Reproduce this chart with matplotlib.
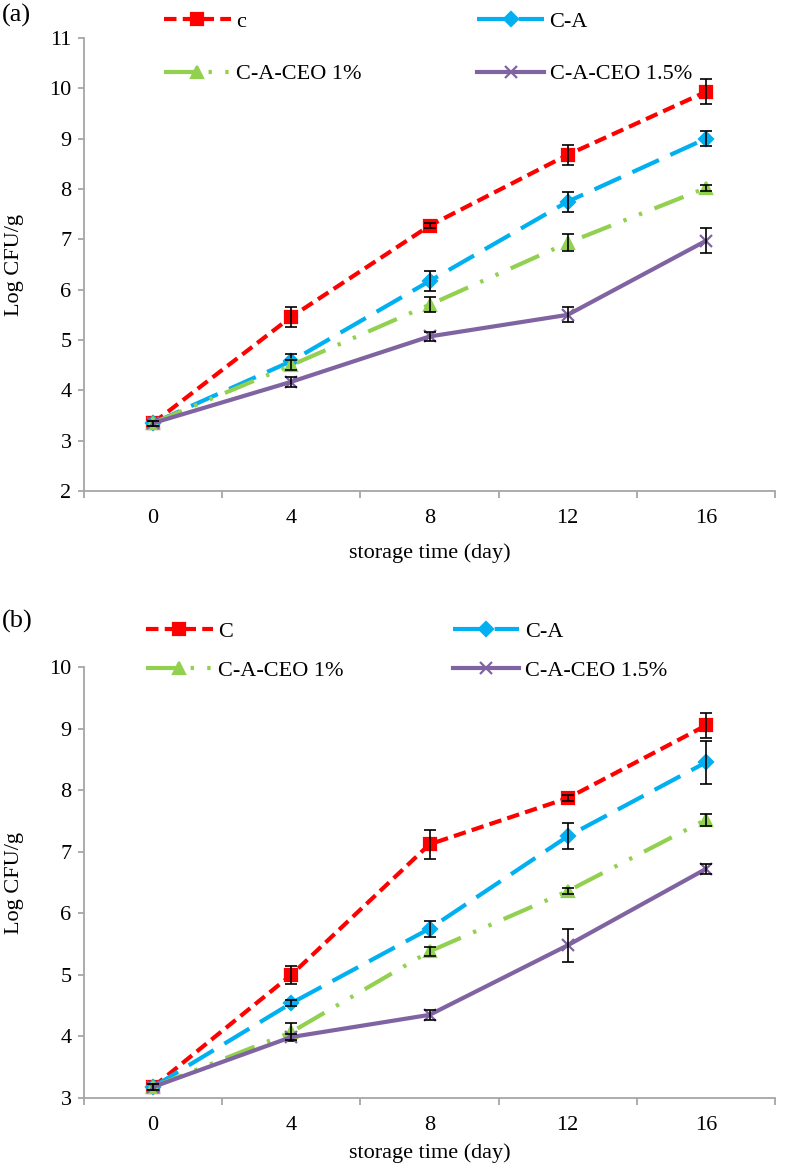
import matplotlib.pyplot as plt
import numpy as np
from matplotlib.lines import Line2D
from matplotlib.ticker import FixedLocator

plt.rcParams['font.family'] = ['Liberation Serif', 'DejaVu Serif']

days = ['0', '4', '8', '12', '16']

# panel (a), Log CFU/g
a_c = [3.35, 5.46, 7.27, 8.68, 9.93]
a_ca = [3.35, 4.58, 6.17, 7.75, 9.00]
a_ceo1 = [3.35, 4.50, 5.70, 6.93, 8.02]
a_ceo15 = [3.35, 4.17, 5.07, 5.50, 6.97]
a_c_err = [0.05, 0.20, 0.05, 0.20, 0.25]
a_ca_err = [0.05, 0.15, 0.20, 0.20, 0.15]
a_ceo1_err = [0.05, 0.10, 0.15, 0.17, 0.05]
a_ceo15_err = [0.05, 0.10, 0.08, 0.15, 0.25]

# panel (b)
b_c = [3.18, 5.00, 7.12, 7.87, 9.05]
b_ca = [3.18, 4.54, 5.75, 7.25, 8.45]
b_ceo1 = [3.18, 4.07, 5.38, 6.36, 7.52]
b_ceo15 = [3.18, 3.99, 4.35, 5.48, 6.72]
b_c_err = [0.05, 0.15, 0.24, 0.05, 0.20]
b_ca_err = [0.05, 0.05, 0.13, 0.21, 0.35]
b_ceo1_err = [0.05, 0.15, 0.07, 0.05, 0.10]
b_ceo15_err = [0.05, 0.05, 0.08, 0.27, 0.08]

# (color, dash pattern, marker, markersize)
styles = [
    ('#FF0000', (3, 1.5), 's', 9),
    ('#00B0F0', (7, 3), 'D', 7.5),
    ('#92D050', (7.5, 3.2, 0.8, 3.2, 0.8, 3.2), '^', 9),
    ('#8064A2', None, 'x', 9),
]

W, H = 788, 1168
fig = plt.figure(figsize=(W / 100, H / 100), dpi=100)
GRAY = '#A6A6A6'
FS = 16


def px(x0, y0, x1, y1):
    # pixel box (top-left origin) -> figure fraction rect
    return [x0 / W, 1 - y1 / H, (x1 - x0) / W, (y1 - y0) / H]


def draw_panel(rect, series, errs, labels, ylim, leg_xy, leg_space, leg_colsp,
               tag, tag_y, xlab_off):
    ax = fig.add_axes(px(*rect))
    x = np.arange(len(days))
    handles = []
    for i, (vals, err, (col, dash, mk, ms)) in enumerate(zip(series, errs, styles)):
        line, = ax.plot(x, vals, color=col, lw=3, marker=mk, ms=ms,
                        mec=col, mfc=col, mew=1.6, zorder=3 + i,
                        dash_capstyle='butt', solid_capstyle='butt')
        if dash is not None:
            line.set_dashes(dash)
        ax.errorbar(x, vals, yerr=err, fmt='none', ecolor='black',
                    elinewidth=1.2, capsize=4.5, capthick=1.2, zorder=3.5 + i)
        h = Line2D([], [], color=col, lw=3, marker=mk, ms=ms, mec=col, mfc=col,
                   mew=1.6, dash_capstyle='butt')
        if dash is not None:
            h.set_dashes(dash)
        handles.append(h)

    ax.set_xlim(-0.5, len(days) - 0.5)
    ax.set_ylim(*ylim)
    ax.set_yticks(np.arange(ylim[0], ylim[1] + 1, 1))
    ax.set_xticks(x)
    ax.set_xticklabels(days)
    ax.xaxis.set_minor_locator(FixedLocator(np.arange(-0.5, len(days), 1)))
    ax.tick_params(axis='x', which='major', length=0, pad=13, labelsize=FS)
    ax.tick_params(axis='x', which='minor', length=5, width=1.3, color=GRAY)
    ax.tick_params(axis='y', length=4, width=1.3, color=GRAY, pad=5, labelsize=FS)
    for s in ['top', 'right']:
        ax.spines[s].set_visible(False)
    for s in ['left', 'bottom']:
        ax.spines[s].set_color(GRAY)
        ax.spines[s].set_linewidth(1.3)

    x0, y0, x1, y1 = rect
    fig.text(15 / W, 1 - (y0 + y1) / 2 / H, 'Log CFU/g', rotation=90,
             ha='center', va='center', fontsize=FS)
    fig.text((x0 + x1) / 2 / W, 1 - (y1 + xlab_off) / H, 'storage time (day)',
             ha='center', va='center', fontsize=FS)
    fig.text(2 / W, 1 - tag_y / H, tag, ha='left', va='center', fontsize=19)

    # legend fills column-wise; reorder so rows read c, C-A / CEO 1%, CEO 1.5%
    order = [0, 2, 1, 3]
    fig.legend([handles[k] for k in order], [labels[k] for k in order],
               loc='upper left', bbox_to_anchor=(leg_xy[0] / W, 1 - leg_xy[1] / H),
               ncol=2, frameon=False, fontsize=FS, borderpad=0, borderaxespad=0,
               handlelength=3.0, handletextpad=0.25, columnspacing=leg_colsp,
               labelspacing=leg_space)
    return ax


draw_panel((84, 38, 775, 491),
           [a_c, a_ca, a_ceo1, a_ceo15],
           [a_c_err, a_ca_err, a_ceo1_err, a_ceo15_err],
           ['c', 'C-A', 'C-A-CEO 1%', 'C-A-CEO 1.5%'],
           (2, 11), (164, 11), 1.45, 5.2, '(a)', 15, 62)

draw_panel((84, 667, 775, 1098),
           [b_c, b_ca, b_ceo1, b_ceo15],
           [b_c_err, b_ca_err, b_ceo1_err, b_ceo15_err],
           ['C', 'C-A', 'C-A-CEO 1%', 'C-A-CEO 1.5%'],
           (3, 10), (146, 621), 0.85, 4.9, '(b)', 621, 55)

fig.savefig('out.png', dpi=100)
